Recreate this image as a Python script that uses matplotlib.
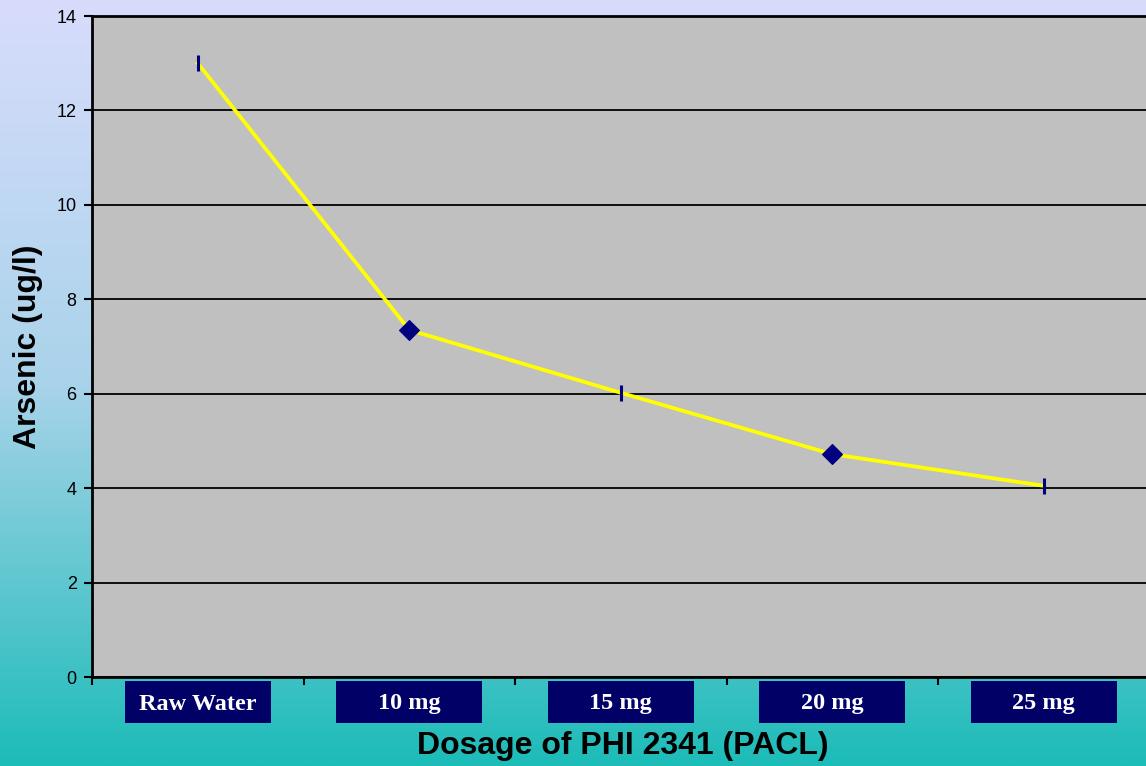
import numpy as np
import matplotlib
matplotlib.use('Agg')
import matplotlib.pyplot as plt
from matplotlib.colors import LinearSegmentedColormap
from matplotlib.patches import Rectangle
import matplotlib.transforms as mtransforms

# data
categories = ['Raw Water', '10 mg', '15 mg', '20 mg', '25 mg']
arsenic = [13.0, 7.35, 6.02, 4.72, 4.05]

fig = plt.figure(figsize=(11.46, 7.66), dpi=100)

# gradient background
bg = fig.add_axes([0, 0, 1, 1], zorder=-10)
cmap = LinearSegmentedColormap.from_list('bg', ['#d8dcfc', '#a9d3ea', '#1cbcb8'])
grad = np.linspace(0, 1, 256).reshape(-1, 1)
bg.imshow(grad, aspect='auto', cmap=cmap, extent=[0, 1, 0, 1], origin='upper')
bg.set_axis_off()

ax = fig.add_axes([92 / 1146, 89 / 766, 1057.5 / 1146, 661 / 766])
ax.set_facecolor('#c0c0c0')

x = np.arange(len(categories))
y = np.array(arsenic)
ax.plot(x, y, color='#ffff00', lw=2.7, zorder=3)
ax.plot(x[::2], y[::2], ls='none', marker='|', ms=12, mew=2.2, color='#000080', zorder=4)
ax.plot(x[1::2], y[1::2], ls='none', marker='D', ms=10, mew=0.8, color='#000080', zorder=4)

ax.set_xlim(-0.5, len(categories) - 0.5)
ax.set_ylim(0, 14)
ax.set_yticks(np.arange(0, 15, 2))
ax.yaxis.grid(True, color='black', lw=1.3)
ax.set_axisbelow(True)

ax.spines['right'].set_visible(False)
ax.spines['top'].set_linewidth(2)
ax.spines['left'].set_linewidth(2)
ax.spines['bottom'].set_linewidth(2)

ax.tick_params(axis='y', direction='out', length=6, width=1.5, labelsize=13, pad=5)
for t in ax.get_yticklabels():
    t.set_family('Liberation Sans')
ax.set_xticks(np.arange(-0.5, len(categories), 1))
ax.set_xticklabels([])
ax.tick_params(axis='x', direction='out', length=6, width=1.5)

# category labels in navy boxes
trans = mtransforms.blended_transform_factory(ax.transData, ax.transAxes)
bw = 146 / 211.5
h = 661.0
for i, lab in enumerate(categories):
    ax.add_patch(Rectangle((i - bw / 2, -46 / h), bw, 42 / h, transform=trans,
                           facecolor='#000066', edgecolor='none', clip_on=False))
    ax.text(i, -27 / h, lab, transform=trans, ha='center', va='center',
            color='white', fontsize=17.5, fontweight='bold', family='Liberation Serif')

ax.set_ylabel('Arsenic (ug/l)', fontsize=23, fontweight='bold', family='Liberation Sans', labelpad=10)
fig.text(623 / 1146, 1 - 746 / 766, 'Dosage of PHI 2341 (PACL)', ha='center', va='center',
         fontsize=23, fontweight='bold', family='Liberation Sans')

fig.savefig('out.png', dpi=100)
